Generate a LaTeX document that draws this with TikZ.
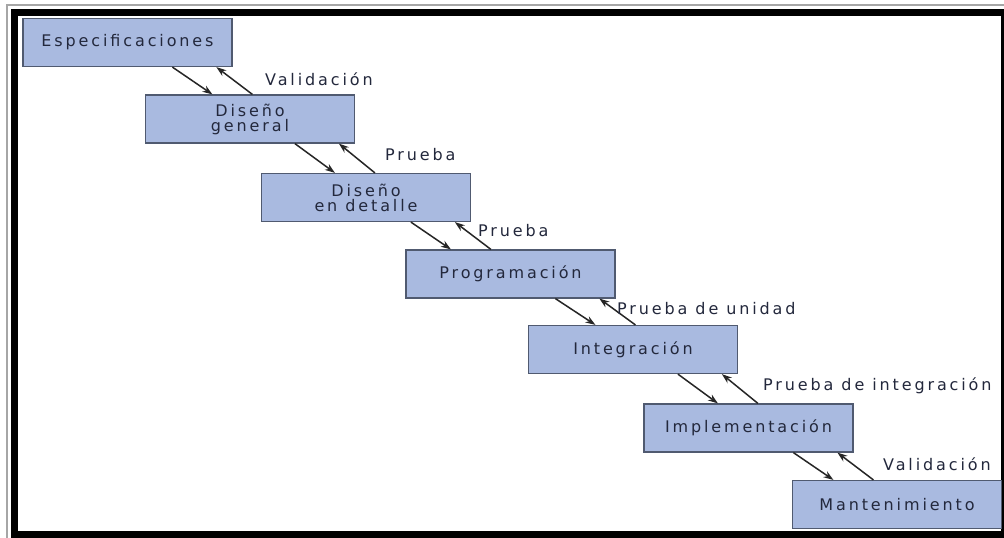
\documentclass[tikz,border=0pt]{standalone}
\usepackage{fontspec}
\setmainfont{DejaVu Sans}[LetterSpace=18]
\usetikzlibrary{calc,arrows.meta}
\definecolor{boxfill}{RGB}{169,186,224}
\definecolor{boxline}{RGB}{80,90,112}
\definecolor{ink}{RGB}{35,40,60}
\begin{document}
\begin{tikzpicture}[x=1pt,y=-1pt,
  stage/.style={draw=boxline,line width=1.2pt,fill=boxfill,text=ink,minimum width=209pt,
    minimum height=48pt,inner sep=0pt,align=center,font=\fontsize{16}{15}\selectfont},
  flow/.style={draw=black!85,line width=1.5pt,-{Stealth[length=10pt,width=7pt]}},
  lbl/.style={anchor=west,inner sep=0pt,text=ink,font=\fontsize{16}{15}\selectfont}]
\useasboundingbox (0,0) rectangle (1004,538);
\fill[white] (0,0) rectangle (1004,538);
% double frame: thin grey rule outside a heavy black one
\draw[gray!70,line width=2pt] (7,545) -- (7,4.5) -- (1010,4.5);
\draw[black,line width=7pt] (14.5,12.5) rectangle (1004.5,534.5);

% stages of the cascade
\node[stage] (s1) at (127.5,42.5) {Especificaciones};
\node[stage] (s2) at (250,119) {Diseño\\general};
\node[stage] (s3) at (366,197.5) {Diseño\\en detalle};
\node[stage] (s4) at (510.5,274) {Programación};
\node[stage] (s5) at (633,349.5) {Integración};
\node[stage] (s6) at (748.5,428) {Implementación};
\node[stage] (s7) at (897,504.5) {Mantenimiento};

% forward and feedback arrows between consecutive stages
\foreach \u/\l in {s1/s2,s2/s3,s3/s4,s4/s5,s5/s6,s6/s7} {
  \coordinate (a) at ($(\u.south west)+(150,0)$);
  \coordinate (b) at ($(\u.south west)+(190,0)$);
  \coordinate (c) at ($(\u.south west)+(230,0)$);
  \coordinate (d) at ($(\u.south west)+(194,0)$);
  \draw[flow] (a) -- (b |- \l.north);
  \draw[flow] (c |- \l.north) -- (d);
}

% feedback labels
\node[lbl] (v1) at (265,79) {Validación};
\node[lbl] (p1) at (385,155) {Prueba};
\node[lbl] (p2) at (478,231) {Prueba};
\node[lbl] (p3) at (617,309) {Prueba de unidad};
\node[lbl] (p4) at (763,386) {Prueba de integración};
\node[lbl] (v2) at (883,464) {Validación};
\end{tikzpicture}
\end{document}
